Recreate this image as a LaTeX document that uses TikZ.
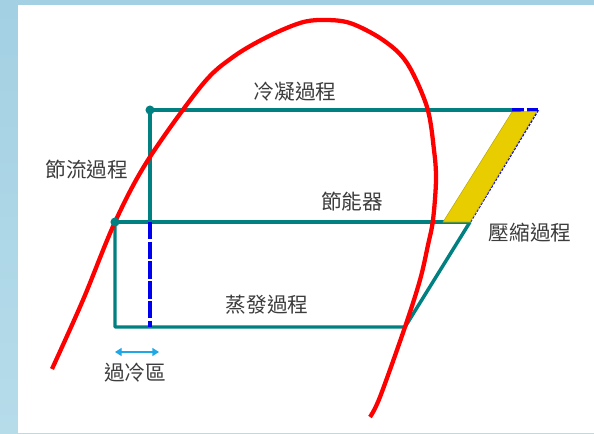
\documentclass[tikz,border=0pt]{standalone}
\usepackage{fontspec}
\newfontfamily\cjk{Noto Sans CJK TC}
\usetikzlibrary{arrows.meta}
\definecolor{teal1}{RGB}{0,128,128}
\definecolor{red1}{RGB}{255,0,0}
\definecolor{blue1}{RGB}{0,0,240}
\definecolor{gold1}{RGB}{232,206,0}
\definecolor{goldedge}{RGB}{190,168,0}
\definecolor{cyan1}{RGB}{30,168,230}
\definecolor{txt}{RGB}{60,60,60}
\definecolor{frameA}{RGB}{163,208,227}
\definecolor{frameB}{RGB}{182,220,234}
\tikzset{
  tealline/.style={draw=teal1,line width=2.6pt},
  bluedash/.style={draw=blue1,line width=2.8pt,dash pattern=on 13pt off 1.8pt},
  lbl/.style={font=\cjk\fontsize{15.5}{18}\selectfont,text=txt,inner sep=0pt},
  dotmark/.style={fill=teal1,draw=none},
}
\begin{document}
\begin{tikzpicture}[x=0.75pt,y=-0.75pt]
\useasboundingbox (0,0) rectangle (594,433);
\shade[top color=frameA,bottom color=frameB] (0,0) rectangle (594,433);
\fill[white] (18,5) rectangle (594,433);
% points
\coordinate (c1) at (150,110);
\coordinate (c2) at (512,110);
\coordinate (c3) at (538,110);
\coordinate (m1) at (115,222);
\coordinate (m2) at (150,222);
\coordinate (m3) at (470,222);
\coordinate (y1) at (443,222);
\coordinate (b1) at (115,327);
\coordinate (b2) at (150,327);
\coordinate (b3) at (405,327);
\coordinate (ar1) at (115,352);
\coordinate (ar2) at (159,352);
% cycle lines
\draw[tealline] (c1) -- (c2);
\draw[tealline] (c1) -- (m2);
\draw[tealline] (m1) -- (m3);
\draw[tealline,line join=round] (m1) -- (b1) -- (b3) -- (m3);
\draw[bluedash] (m2) -- (b2);
\draw[draw=blue1,line width=2.8pt,dash pattern=on 9pt off 2pt] (c2) -- (c3);
\draw[draw=blue1,line width=1.6pt,dash pattern=on 2pt off 1pt] (c3) -- (m3);
\fill[gold1,draw=goldedge,line width=0.4pt] (y1) -- (m3) -- ([xshift=-1pt,yshift=-1pt]c3) -- ([yshift=-1.5pt]c2) -- cycle;
% saturation curve
\draw[red1,line width=3.2pt] plot[smooth,tension=0.55] coordinates {
 (52,369) (83,300) (115,222) (148,160) (202,85) (233,57) (267,37)
 (300,23) (322,20) (350,23) (383,40) (407,63) (427,107) (434,150) (436,180)
 (433,220) (428,245) (420,280) (405,327) (380,397) (370,417)};
% dots
\fill[dotmark] (c1) circle (3.4pt);
\fill[dotmark] (m1) circle (3.4pt);
% subcooling arrow
\draw[cyan1,line width=1pt,{Triangle[width=6pt,length=5pt]}-{Triangle[width=6pt,length=5pt]}] (ar1) -- (ar2);
% labels
\node[lbl] (tcond) at (295,92) {冷凝過程};
\node[lbl] (tthr) at (87,170) {節流過程};
\node[lbl] (teco) at (352,202) {節能器};
\node[lbl] (tcomp) at (530,233) {壓縮過程};
\node[lbl] (tevap) at (267,305) {蒸發過程};
\node[lbl] (tsub) at (135,373) {過冷區};
\end{tikzpicture}
\end{document}
